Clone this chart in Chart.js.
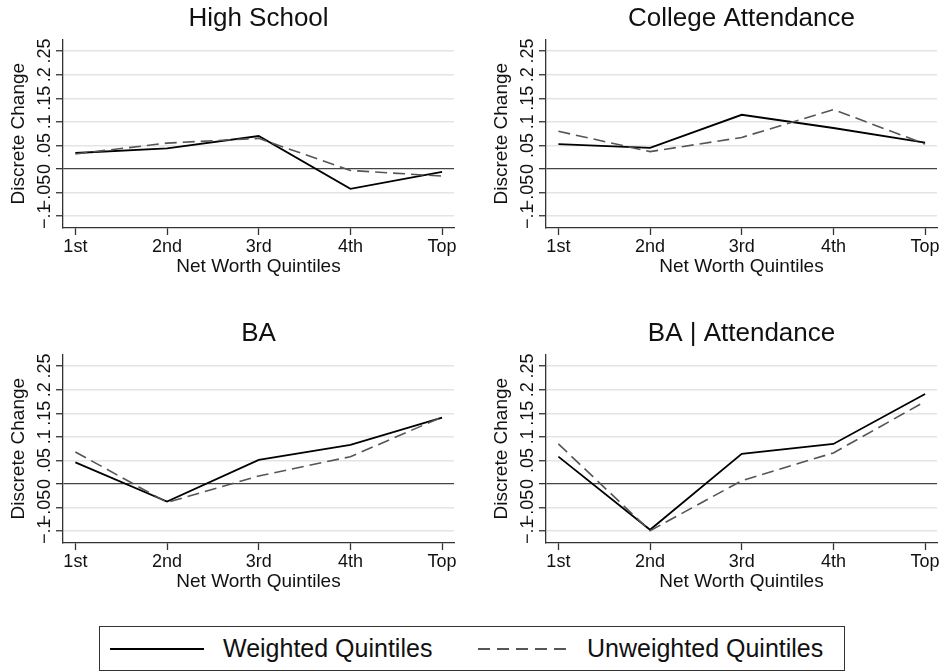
<!DOCTYPE html>
<html>
<head>
<meta charset="utf-8">
<script src="https://cdn.jsdelivr.net/npm/chart.js@4.4.1/dist/chart.umd.min.js"></script>
<style>
  html, body { margin: 0; padding: 0; background: #fff; width: 945px; height: 672px; overflow: hidden; }
  canvas { position: absolute; }
  #legend {
    position: absolute; left: 99px; top: 626px; width: 744px; height: 43px;
    border: 1.3px solid #333; font: 25px "Liberation Sans", Arial, sans-serif; color: #111;
  }
  #legend span { position: absolute; top: 0; line-height: 43px; white-space: nowrap; }
</style>
</head>
<body>
<canvas id="p0" width="462" height="290" style="left:0px;top:0px"></canvas>
<canvas id="p1" width="462" height="290" style="left:483px;top:0px"></canvas>
<canvas id="p2" width="462" height="290" style="left:0px;top:315px"></canvas>
<canvas id="p3" width="462" height="290" style="left:483px;top:315px"></canvas>

<div id="legend">
  <svg width="744" height="43" style="position:absolute;left:0;top:0">
    <line x1="10" y1="22" x2="104" y2="22" stroke="#000" stroke-width="2"></line>
    <line x1="378" y1="22" x2="473" y2="22" stroke="#555" stroke-width="1.8" stroke-dasharray="12 7"></line>
  </svg>
  <span style="left:123px">Weighted Quintiles</span>
  <span style="left:487px">Unweighted Quintiles</span>
</div>

<script>
// Net worth quintiles on the x axis
const quintiles = ['1st', '2nd', '3rd', '4th', 'Top'];
const quintilePos = [1, 2, 3, 4, 5];

// Discrete change axis ticks
const yTicks = [-0.1, -0.05, 0, 0.05, 0.1, 0.15, 0.2, 0.25];
const yTickLabels = ['\u2212.1', '\u2212.05', '0', '.05', '.1', '.15', '.2', '.25'];

const panelTitles = ['High School', 'College Attendance', 'BA', 'BA | Attendance'];

// Discrete changes by quintile, weighted vs unweighted quintile definitions
const highSchoolWeighted   = [0.034, 0.044, 0.070, -0.042, -0.006];
const highSchoolUnweighted = [0.032, 0.055, 0.065, -0.003, -0.015];
const attendanceWeighted   = [0.053, 0.045, 0.115, 0.087, 0.056];
const attendanceUnweighted = [0.080, 0.037, 0.067, 0.126, 0.053];
const baWeighted           = [0.046, -0.037, 0.051, 0.083, 0.141];
const baUnweighted         = [0.068, -0.039, 0.017, 0.058, 0.142];
const baAttendWeighted     = [0.058, -0.097, 0.064, 0.085, 0.191];
const baAttendUnweighted   = [0.085, -0.099, 0.007, 0.066, 0.175];

const FONT = '"Liberation Sans", Arial, Helvetica, sans-serif';
const TEXT = '#111';

// y tick labels are drawn rotated, Stata style
const rotatedYLabels = {
  id: 'rotatedYLabels',
  afterDraw(chart) {
    const s = chart.scales.y;
    const ctx = chart.ctx;
    ctx.save();
    ctx.fillStyle = TEXT;
    ctx.font = '18px ' + FONT;
    ctx.textAlign = 'center';
    ctx.textBaseline = 'alphabetic';
    yTicks.forEach((v, i) => {
      const py = s.getPixelForValue(v);
      ctx.save();
      ctx.translate(s.right - 13, py);
      ctx.rotate(-Math.PI / 2);
      ctx.fillText(yTickLabels[i], 0, 0);
      ctx.restore();
    });
    ctx.restore();
  }
};

function toPoints(values) {
  return values.map((v, i) => ({ x: quintilePos[i], y: v }));
}

function makePanel(id, title, weighted, unweighted) {
  return new Chart(document.getElementById(id), {
    type: 'line',
    data: {
      datasets: [
        {
          label: 'Unweighted Quintiles',
          data: toPoints(unweighted),
          borderColor: '#555',
          borderWidth: 1.6,
          borderDash: [12, 6],
          pointRadius: 0,
          tension: 0,
          fill: false
        },
        {
          label: 'Weighted Quintiles',
          data: toPoints(weighted),
          borderColor: '#000',
          borderWidth: 1.8,
          pointRadius: 0,
          tension: 0,
          fill: false
        }
      ]
    },
    options: {
      responsive: false,
      animation: false,
      devicePixelRatio: 1,
      layout: { padding: { left: 0, right: 8, top: 0, bottom: 0 } },
      plugins: {
        legend: { display: false },
        tooltip: { enabled: false },
        title: {
          display: true,
          text: title,
          fullSize: false,
          color: TEXT,
          font: { family: FONT, size: 26, weight: 'normal' },
          padding: { top: 3.4, bottom: 4.7 }
        }
      },
      scales: {
        x: {
          type: 'linear',
          min: 0.865,
          max: 5.13,
          afterBuildTicks: s => { s.ticks = quintilePos.map(v => ({ value: v })); },
          afterFit: s => { s.height = 62; },
          ticks: {
            callback: v => quintiles[quintilePos.indexOf(v)],
            color: TEXT,
            font: { family: FONT, size: 18 },
            padding: 1,
            maxRotation: 0,
            autoSkip: false
          },
          grid: { drawOnChartArea: false, drawTicks: true, tickLength: 7, tickColor: '#333', tickWidth: 1.3 },
          border: { display: true, color: '#333', width: 1.3 },
          title: {
            display: true,
            text: 'Net Worth Quintiles',
            color: TEXT,
            font: { family: FONT, size: 19 },
            padding: { top: 0, bottom: 12 }
          }
        },
        y: {
          type: 'linear',
          min: -0.125,
          max: 0.275,
          afterBuildTicks: s => { s.ticks = yTicks.map(v => ({ value: v })); },
          afterFit: s => { s.width = 63; },
          ticks: { display: false },
          grid: {
            color: c => (c.tick && c.tick.value === 0) ? '#444' : '#e4e4e4',
            lineWidth: c => (c.tick && c.tick.value === 0) ? 1.3 : 1.5,
            tickColor: '#333',
            tickLength: 7,
            tickWidth: 1.3
          },
          border: { display: true, color: '#333', width: 1.3 },
          title: {
            display: true,
            text: 'Discrete Change',
            color: TEXT,
            font: { family: FONT, size: 19 },
            padding: { top: 7.6, bottom: 0 }
          }
        }
      }
    },
    plugins: [rotatedYLabels]
  });
}

makePanel('p0', panelTitles[0], highSchoolWeighted, highSchoolUnweighted);
makePanel('p1', panelTitles[1], attendanceWeighted, attendanceUnweighted);
makePanel('p2', panelTitles[2], baWeighted, baUnweighted);
makePanel('p3', panelTitles[3], baAttendWeighted, baAttendUnweighted);
</script>
</body>
</html>
